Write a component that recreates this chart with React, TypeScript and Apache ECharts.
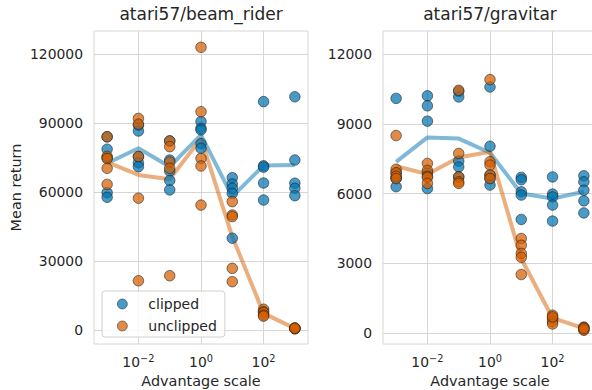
import React, { useEffect, useRef } from "react";
import * as echarts from "echarts";

// Advantage scales used for each run (log-spaced)
const scales = [0.001, 0.01, 0.1, 1, 10, 100, 1000];

// atari57/beam_rider: per-seed returns at each scale
const beamClipped = [
  [84000, 78600, 74900, 59700, 57700],
  [89000, 86500, 75400, 72700, 71000],
  [82200, 73900, 69100, 65000, 60900],
  [90600, 87700, 87000, 81000, 79000],
  [66200, 63500, 61600, 59400, 39900],
  [99300, 71400, 70800, 63900, 56500],
  [101400, 73900, 63800, 61600, 58400],
];
const beamClippedMean = [72500, 79000, 71000, 84800, 58000, 71500, 71700];

const beamUnclipped = [
  [84000, 75500, 74500, 70300, 63300],
  [92000, 89500, 75400, 57300, 21400],
  [82200, 79700, 73000, 70300, 23600],
  [122900, 94900, 74600, 71300, 54300],
  [55800, 50000, 49300, 26800, 21000],
  [9000, 8000, 7500, 6500, 6000],
  [900, 700, 600, 500, 800],
];
const beamUnclippedMean = [73000, 67400, 65500, 83300, 40600, 7200, 700];

// atari57/gravitar: per-seed returns at each scale
const gravClipped = [
  [10100, 6900, 6700, 6650, 6300],
  [10210, 9780, 9120, 6900, 6220],
  [10400, 10160, 7400, 7150, 6720],
  [10590, 8040, 6800, 6650, 6370],
  [6700, 6600, 6080, 5940, 4890],
  [6720, 5980, 5860, 5510, 4820],
  [6770, 6510, 6150, 5690, 5170],
];
const gravClippedMean = [7370, 8420, 8370, 7760, 6010, 5790, 6080];

const gravUnclipped = [
  [8500, 7050, 6900, 6750, 6650],
  [7300, 7000, 6750, 6700, 6440],
  [10450, 7730, 6720, 6510, 6440],
  [10910, 7370, 7230, 6800, 6650],
  [4070, 3780, 3430, 3260, 2520],
  [770, 630, 490, 390, 700],
  [260, 230, 150, 120, 200],
];
const gravUnclippedMean = [7180, 6840, 7560, 7800, 3200, 650, 200];

const xTicks = [0.01, 1, 100];
const beamYTicks = [0, 30000, 60000, 90000, 120000];
const gravYTicks = [0, 3000, 6000, 9000, 12000];

const BLUE = "#0173B2";
const ORANGE = "#D55E00";
const TEXT = "#262626";
const GRID = "#d6d6d6";
const FONT = "DejaVu Sans";

const points = (vals: number[][]) =>
  scales.flatMap((s, i) => vals[i].map((v) => [s, v]));
const meanLine = (vals: number[]) => scales.map((s, i) => [s, vals[i]]);

const xAxis = (gridIndex: number, withName: boolean) => ({
  type: "log",
  logBase: 10,
  gridIndex,
  min: Math.pow(10, -3.42),
  max: Math.pow(10, 3.42),
  axisLine: { show: false },
  axisTick: { show: false, customValues: xTicks },
  axisLabel: {
    customValues: xTicks,
    margin: 9,
    formatter: (v: number) => {
      const e = Math.round(Math.log10(v));
      return "{b|10}{s|" + (e < 0 ? "\u2212" + -e : String(e)) + "}";
    },
    rich: {
      b: { fontSize: 13.9, color: TEXT, fontFamily: FONT, lineHeight: 18 },
      s: {
        fontSize: 9.8,
        color: TEXT,
        fontFamily: FONT,
        verticalAlign: "top",
        lineHeight: 10,
      },
    },
  },
  splitLine: { show: true, lineStyle: { color: GRID, width: 1 } },
  name: withName ? "Advantage scale" : "",
  nameLocation: "middle",
  nameGap: 30,
  nameTextStyle: { fontSize: 14.4, color: TEXT, fontFamily: FONT },
});

const yAxis = (
  gridIndex: number,
  min: number,
  max: number,
  ticks: number[],
  name: string
) => ({
  type: "value",
  gridIndex,
  min,
  max,
  axisLine: { show: false },
  axisTick: { show: false, customValues: ticks },
  axisLabel: {
    customValues: ticks,
    margin: 11,
    fontSize: 13.9,
    color: TEXT,
    fontFamily: FONT,
    formatter: (v: number) => String(v),
  },
  splitLine: { show: true, lineStyle: { color: GRID, width: 1 } },
  name,
  nameLocation: "middle",
  nameGap: 71,
  nameTextStyle: { fontSize: 14.4, color: TEXT, fontFamily: FONT },
});

const scatter = (name: string, color: string, idx: number, vals: number[][]) => ({
  name,
  type: "scatter",
  xAxisIndex: idx,
  yAxisIndex: idx,
  symbol: "circle",
  symbolSize: 10.5,
  z: 3,
  itemStyle: {
    color,
    opacity: 0.72,
    borderColor: "#1e1e1e",
    borderWidth: 0.8,
  },
  data: points(vals),
});

const line = (name: string, color: string, idx: number, vals: number[]) => ({
  name,
  type: "line",
  xAxisIndex: idx,
  yAxisIndex: idx,
  symbol: "none",
  z: 2,
  lineStyle: { color, width: 4, opacity: 0.5 },
  itemStyle: { color },
  data: meanLine(vals),
});

const panelGrid = (left: number) => ({
  left,
  width: 214,
  top: 31,
  height: 313,
  outerBoundsMode: "none",
  containLabel: false,
  show: true,
  borderColor: GRID,
  borderWidth: 1,
  backgroundColor: "transparent",
});

const option = {
  animation: false,
  backgroundColor: "#ffffff",
  textStyle: { fontFamily: FONT, color: TEXT },
  title: [
    {
      text: "atari57/beam_rider",
      left: 201,
      top: 5,
      padding: 0,
      textAlign: "center",
      textStyle: { fontSize: 17, fontWeight: "normal", color: TEXT, fontFamily: FONT },
    },
    {
      text: "atari57/gravitar",
      left: 490,
      top: 5,
      padding: 0,
      textAlign: "center",
      textStyle: { fontSize: 17, fontWeight: "normal", color: TEXT, fontFamily: FONT },
    },
  ],
  grid: [panelGrid(94), panelGrid(383)],
  xAxis: [xAxis(0, true), xAxis(1, true)],
  yAxis: [
    yAxis(0, -6100, 130000, beamYTicks, "Mean return"),
    yAxis(1, -470, 13000, gravYTicks, ""),
  ],
  legend: {
    data: ["clipped", "unclipped"],
    orient: "vertical",
    left: 102,
    top: 291,
    padding: [6, 8, 4, 15],
    itemGap: 8,
    itemWidth: 10,
    itemHeight: 10,
    borderColor: "#d0d0d0",
    borderWidth: 1,
    borderRadius: 3,
    backgroundColor: "rgba(255,255,255,0.8)",
    itemStyle: { borderWidth: 0.7, borderColor: "#1e1e1e" },
    textStyle: { fontSize: 14, color: TEXT, fontFamily: FONT, padding: [0, 0, 0, 16] },
  },
  series: [
    line("clipped mean", BLUE, 0, beamClippedMean),
    line("unclipped mean", ORANGE, 0, beamUnclippedMean),
    scatter("clipped", BLUE, 0, beamClipped),
    scatter("unclipped", ORANGE, 0, beamUnclipped),
    line("clipped mean", BLUE, 1, gravClippedMean),
    line("unclipped mean", ORANGE, 1, gravUnclippedMean),
    scatter("clipped", BLUE, 1, gravClipped),
    scatter("unclipped", ORANGE, 1, gravUnclipped),
  ],
};

export default function App() {
  const ref = useRef<HTMLDivElement>(null);
  useEffect(() => {
    if (!ref.current) return;
    const chart = echarts.init(ref.current, null, { renderer: "svg" });
    chart.setOption(option as any);
    return () => chart.dispose();
  }, []);
  return (
    <div
      ref={ref}
      style={{ position: "fixed", left: 0, top: 0, width: 592, height: 390, overflow: "hidden" }}
    />
  );
}
